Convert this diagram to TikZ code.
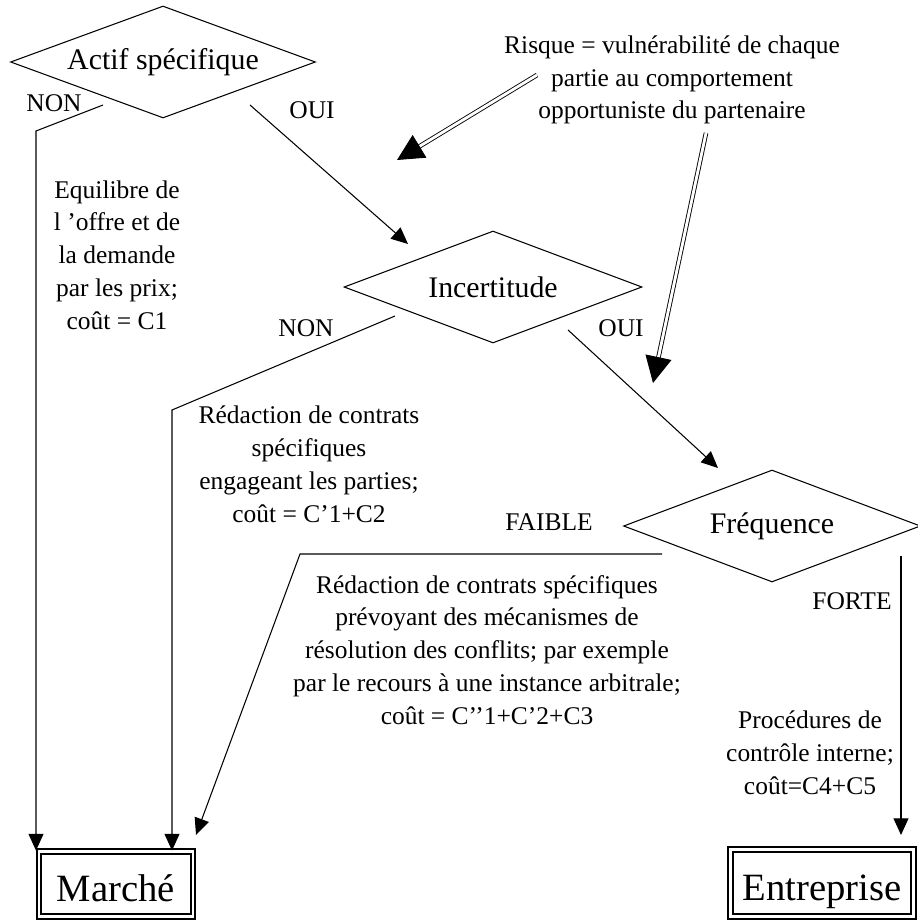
\documentclass[tikz,border=0pt]{standalone}
\usepackage{fontspec}
\setmainfont{Liberation Serif}
\usetikzlibrary{shapes.geometric,arrows.meta}

\begin{document}
\begin{tikzpicture}[x=0.02cm,y=-0.02cm,line width=0.6pt,
    choix/.style={draw,diamond,aspect=2.7,inner sep=0pt,minimum height=2.24cm,font=\fontsize{17}{20}\selectfont},
    issue/.style={draw,double,double distance=1.3pt,line width=1.1pt,inner sep=0pt,text height=20pt,text depth=0pt,font=\fontsize{22}{26}\selectfont},
    txt/.style={align=center,inner sep=0pt,font=\fontsize{14.5}{18.7}\selectfont},
    fleche/.style={-{Triangle[length=9.5pt,width=8.5pt]}},
    risque/.style={-{Triangle[length=15pt,width=15pt]},double,double distance=1.6pt,line width=0.5pt}]
      \useasboundingbox (0,0) rectangle (918,922);
      \node[choix,minimum width=6.1cm] (actif) at (163,62) {Actif spécifique};
      \node[choix,minimum width=5.96cm] (incert) at (493,287) {Incertitude};
      \node[choix,minimum width=5.94cm] (freq) at (772,526) {Fréquence};
      \node[issue,minimum width=3.07cm,minimum height=1.3cm] (marche) at (116,884) {Marché};
      \node[issue,minimum width=3.66cm,minimum height=1.34cm] (entr) at (822,883) {Entreprise};
      \node[txt] (risk) at (672,80) {Risque = vulnérabilité de chaque\\partie au comportement\\opportuniste du partenaire};
      \node[txt] (equil) at (117,255) {Equilibre de\\l ’offre et de\\la demande\\par les prix;\\coût = C1};
      \node[txt] (contrat) at (309,464) {Rédaction de contrats\\spécifiques\\engageant les parties;\\coût = C’1+C2};
      \node[txt] (conflit) at (487,650) {Rédaction de contrats spécifiques\\prévoyant des mécanismes de\\résolution des conflits; par exemple\\par le recours à une instance arbitrale;\\coût = C’’1+C’2+C3};
      \node[txt] (proc) at (810,753) {Procédures de\\contrôle interne;\\coût=C4+C5};
      \node[txt] (non1) at (54,103) {NON};
      \node[txt] (oui1) at (312,110) {OUI};
      \node[txt] (non2) at (306,328) {NON};
      \node[txt] (oui2) at (621,328) {OUI};
      \node[txt] (faible) at (549,522) {FAIBLE};
      \node[txt] (forte) at (852,601) {FORTE};
      \coordinate (a1) at (103,105);
      \coordinate (a2) at (36,131);
      \coordinate (b1) at (250,105);
      \coordinate (b2) at (408,244);
      \coordinate (c1) at (395,316);
      \coordinate (c2) at (172,410);
      \coordinate (d1) at (568,330);
      \coordinate (d2) at (718,468);
      \coordinate (e1) at (662,554);
      \coordinate (e2) at (300,554);
      \coordinate (e3) at (196,835);
      \coordinate (f1) at (901,556);
      \coordinate (f2) at (901,835);
      \coordinate (r1) at (537,75);
      \coordinate (r2) at (397,160);
      \coordinate (r3) at (706,133);
      \coordinate (r4) at (653,383);
      \draw[fleche] (a1) -- (a2) -- (a2 |- marche.north);
      \draw[fleche] (b1) -- (b2);
      \draw[fleche] (c1) -- (c2) -- (c2 |- marche.north);
      \draw[fleche] (d1) -- (d2);
      \draw[fleche] (e1) -- (e2) -- (e3);
      \draw[fleche] (f1) -- (f2);
      \draw[risque] (r1) -- (r2);
      \draw[risque] (r3) -- (r4);
    \end{tikzpicture}
\end{document}
